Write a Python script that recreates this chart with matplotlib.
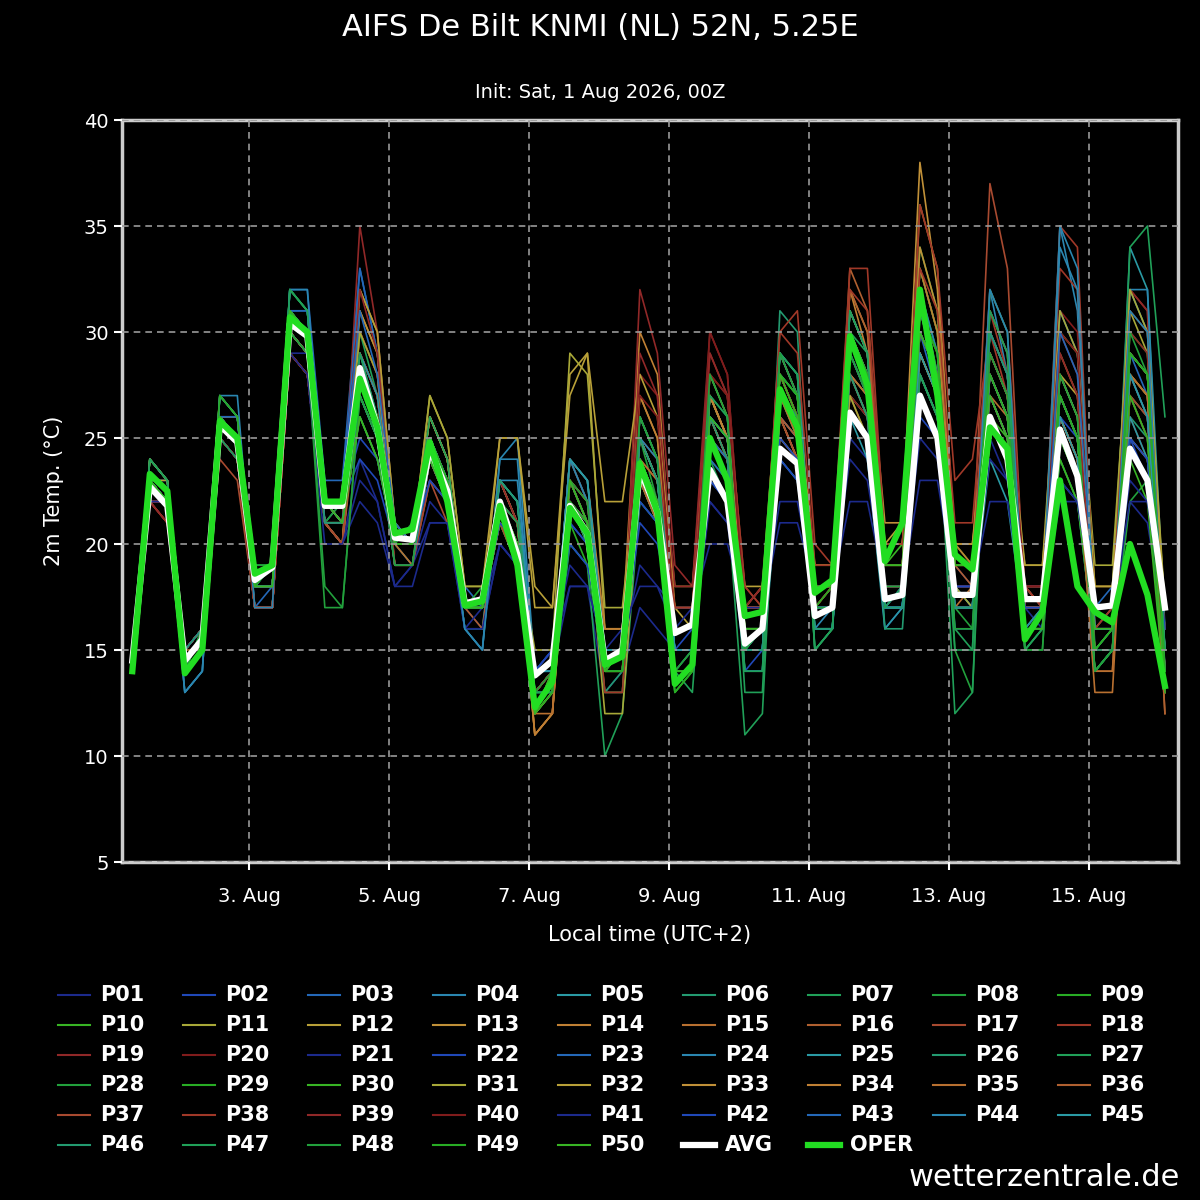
import matplotlib
matplotlib.use("Agg")
import matplotlib.pyplot as plt
from matplotlib.lines import Line2D

avg = [14.5,22.7,21.8,14.5,15.5,25.6,24.8,18.3,18.9,30.4,29.8,21.8,21.8,28.3,25.5,20.3,20.2,24.5,22.5,17.2,17.4,22.0,19.5,13.8,14.5,21.8,20.5,14.5,15.0,23.5,21.5,15.8,16.2,23.5,22.0,15.3,16.0,24.5,23.8,16.6,17.0,26.2,25.0,17.4,17.6,27.0,25.0,17.6,17.6,26.0,24.0,17.4,17.4,25.4,23.2,17.0,17.1,24.5,23.0,17.0]
oper = [14.0,23.3,22.5,13.9,15.0,25.8,25.0,18.6,19.0,30.7,30.0,22.0,22.0,27.8,25.5,20.5,20.7,24.8,22.0,17.1,17.3,21.8,19.0,12.3,13.5,21.7,20.5,14.3,14.7,23.8,21.5,13.4,14.3,25.0,23.0,16.6,16.8,27.3,25.5,17.7,18.3,29.8,27.5,19.2,21.0,32.0,27.0,19.5,18.8,25.5,24.5,15.5,16.8,23.0,18.0,16.8,16.3,20.0,17.6,13.3]

members_txt = """
14 22 22 15 16 25 24 18 18 29 29 21 20 24 22 18 19 22 21 17 16 20 19 14 14 18 18 13 14 17 16 15 15 22 21 15 15 24 23 17 17 25 24 17 18 28 26 19 18 25 23 17 16 24 22 16 16 22 21 16
14 23 23 15 16 26 26 18 19 31 30 22 21 27 25 20 20 25 23 17 17 21 19 13 14 20 19 14 15 22 21 15 16 23 22 14 15 26 25 17 17 27 26 16 17 30 28 18 17 27 25 18 17 26 24 16 16 25 24 17
14 22 22 14 15 26 25 17 18 32 32 23 23 33 29 21 20 25 23 18 17 23 21 14 15 23 21 15 15 25 23 16 16 25 23 16 16 27 25 18 18 29 27 18 18 30 27 18 18 29 27 17 17 28 26 17 18 29 27 16
14 23 22 13 14 27 27 17 17 32 31 21 22 29 26 19 19 24 22 16 15 24 25 14 14 23 21 15 15 24 22 15 15 26 24 15 15 28 26 16 17 31 29 17 17 32 28 18 18 32 28 17 17 35 31 16 17 32 30 15
14 23 22 14 15 26 25 18 18 31 30 22 21 26 24 20 19 24 22 16 16 23 22 13 14 24 22 14 15 23 21 15 15 25 24 14 14 24 23 16 16 26 24 16 17 28 26 18 17 24 22 16 17 23 22 15 16 34 32 16
14 24 23 15 16 26 25 18 19 30 29 21 21 29 27 20 20 25 23 17 17 23 21 12 13 22 21 13 14 26 24 15 15 26 25 14 14 31 30 15 16 30 28 16 16 28 26 17 17 30 28 17 17 26 24 14 15 26 25 16
14 24 23 14 15 25 24 18 18 32 31 22 22 28 26 20 20 25 23 17 17 22 20 12 13 20 19 10 12 22 21 14 13 24 22 11 12 28 27 15 16 29 27 17 18 28 26 16 15 31 29 16 16 25 23 14 15 34 35 26
14 23 22 14 16 26 25 19 19 30 29 21 22 28 25 20 21 25 22 17 18 22 21 13 14 22 21 15 15 25 22 13 14 28 26 16 16 27 26 18 18 30 28 19 19 34 31 15 13 30 28 15 16 28 26 14 15 22 23 13
14 23 22 14 15 27 26 18 19 32 31 22 22 27 25 20 20 25 23 17 17 21 19 12 13 21 19 14 14 23 21 13 14 24 23 16 16 27 26 17 18 30 28 20 20 33 30 19 19 26 24 16 16 24 22 15 16 30 29 13
14 23 22 14 15 26 25 18 18 31 30 22 21 27 25 20 20 24 22 17 17 21 19 12 14 22 20 14 15 23 22 14 14 25 23 16 16 27 25 18 18 29 27 19 20 32 28 20 19 26 25 16 17 24 22 16 16 24 22 13
14 24 23 15 16 27 26 18 18 30 29 21 21 29 27 20 20 26 24 17 17 22 20 13 14 23 21 12 12 23 21 15 15 28 26 16 16 28 26 18 18 31 29 19 19 30 28 18 17 30 28 18 18 30 29 19 19 31 29 17
14 23 23 15 16 26 26 18 18 30 29 21 20 31 29 20 20 27 25 18 18 25 25 18 17 28 29 16 16 26 24 17 16 27 25 17 17 26 24 18 18 27 26 20 20 29 27 19 19 27 25 18 18 26 24 17 17 25 24 16
14 23 22 15 16 26 25 18 18 30 29 22 21 32 30 21 20 26 24 17 17 23 21 11 12 22 20 15 15 25 23 17 17 27 25 17 18 29 27 19 19 32 30 21 21 38 32 19 19 27 25 18 17 26 24 17 17 28 26 14
14 23 22 15 16 25 24 17 17 30 29 22 21 30 28 20 20 26 24 17 17 22 20 11 12 24 23 16 16 30 28 17 17 27 25 17 18 28 26 18 18 32 29 19 19 36 33 20 19 29 27 18 18 29 27 16 16 29 28 14
14 23 22 15 15 25 24 17 17 29 28 21 20 28 26 20 19 24 22 17 17 21 20 11 12 22 21 14 14 25 23 16 16 26 24 17 17 26 25 18 18 28 26 18 18 27 25 17 18 28 26 17 17 26 24 13 13 28 27 12
14 22 22 15 16 25 24 17 17 30 29 21 20 27 25 19 19 24 22 17 16 22 20 13 14 22 20 14 14 23 21 16 16 25 23 17 17 25 24 18 18 33 31 20 20 31 28 19 18 26 24 18 17 26 24 14 14 28 27 14
14 22 21 15 16 24 23 17 17 29 28 21 20 30 28 19 19 23 21 17 17 21 19 13 14 22 21 15 15 24 22 16 16 27 25 17 17 26 24 17 18 27 25 17 18 33 30 19 19 37 33 17 17 27 25 15 15 27 26 14
14 22 21 14 15 25 24 18 18 30 29 22 22 29 27 20 20 24 22 17 17 22 20 13 14 23 21 13 13 24 23 17 17 29 27 18 17 30 31 20 19 33 33 20 20 36 33 23 24 30 27 18 17 35 34 16 17 32 31 13
14 22 21 15 16 25 24 17 17 29 28 21 21 35 30 20 20 25 23 17 17 23 21 13 14 22 21 14 14 32 29 19 18 30 28 17 18 27 26 17 18 30 28 19 19 28 26 17 17 32 30 18 18 30 28 15 15 32 31 13
14 22 22 15 16 25 24 17 17 29 28 21 21 30 28 19 19 24 22 17 17 22 20 13 14 23 21 14 14 28 27 16 16 30 28 17 17 28 26 18 18 27 26 18 18 30 28 17 17 28 26 18 18 31 30 18 18 26 24 16
14 22 22 15 16 25 24 18 18 30 29 21 20 22 21 18 19 21 21 16 17 20 19 14 15 19 18 15 15 19 18 17 17 22 21 17 17 22 22 18 18 24 23 18 18 25 24 18 18 24 23 18 18 23 22 17 17 23 22 17
14 23 22 15 16 26 25 18 19 30 29 22 22 24 23 20 20 23 22 17 17 22 20 14 15 20 19 15 15 21 20 16 16 23 22 15 16 24 23 17 17 26 25 17 18 26 25 18 18 28 26 17 17 27 25 16 16 25 23 16
14 23 22 14 15 26 26 18 18 31 31 22 22 33 29 21 20 25 23 17 17 22 20 14 14 21 20 15 15 24 22 15 15 24 23 14 14 26 25 16 16 28 27 17 17 29 27 17 17 30 28 16 16 31 29 17 17 27 25 15
14 23 22 13 14 27 26 17 17 31 30 21 21 27 25 19 19 24 22 16 15 24 24 13 14 24 23 15 15 26 24 14 15 27 25 15 16 28 26 16 16 29 27 17 17 31 28 16 16 28 26 16 16 35 33 15 16 32 32 14
14 23 22 14 15 26 25 18 18 31 30 22 21 28 26 20 20 25 23 17 17 23 22 14 14 24 23 15 15 25 23 15 15 26 25 15 15 27 26 17 17 28 26 17 17 30 28 18 18 29 27 16 16 27 25 16 16 26 24 15
14 24 23 15 16 26 25 18 19 30 29 21 21 28 26 20 20 25 23 17 17 23 22 13 13 23 21 14 14 25 23 15 15 26 24 15 15 29 28 16 16 30 28 17 17 28 26 17 17 31 29 16 16 27 25 15 15 27 26 15
14 24 23 14 15 25 24 18 18 32 31 22 22 30 27 20 20 26 24 17 17 22 21 13 13 22 20 13 13 24 22 14 14 27 26 13 13 29 28 15 16 30 29 17 18 29 27 12 13 32 30 15 16 27 25 14 15 29 28 15
14 23 22 14 16 26 25 19 19 30 29 17 17 27 25 19 19 25 23 17 17 22 20 13 14 23 22 14 14 26 24 14 15 27 25 15 16 28 27 17 17 29 27 18 18 33 30 17 16 30 28 15 15 28 26 14 15 28 27 14
14 23 22 14 15 27 26 18 19 31 30 22 22 28 26 20 20 25 23 17 17 22 20 12 13 22 21 14 14 23 22 13 14 25 23 16 16 28 27 17 18 30 28 19 19 32 29 19 19 28 26 16 16 27 25 15 16 29 28 13
14 23 22 14 15 26 25 18 18 31 30 22 21 26 24 20 20 24 22 17 17 22 20 12 14 23 21 14 15 24 22 14 14 25 24 16 16 27 26 18 18 30 27 19 19 30 28 19 19 27 25 16 16 25 23 16 16 27 25 13
14 24 23 15 16 26 25 18 18 30 29 21 21 30 28 20 20 27 25 18 18 22 20 15 15 29 28 17 17 25 23 16 16 26 24 16 16 25 24 17 17 27 25 18 18 29 27 19 19 29 27 19 19 31 29 18 18 32 30 17
14 24 23 15 16 26 25 18 18 30 29 21 20 32 30 21 20 26 24 17 17 25 25 17 17 27 29 22 22 28 26 18 18 27 25 18 18 26 24 19 19 28 27 20 21 29 27 20 20 27 25 19 19 28 27 18 18 29 28 17
14 23 22 15 16 26 25 18 18 30 29 21 21 31 29 20 20 26 24 17 17 23 21 12 13 23 22 15 15 27 25 16 16 27 25 17 17 29 27 18 18 31 29 20 20 34 31 20 20 29 27 17 17 28 26 16 16 29 28 15
14 23 22 15 16 25 24 17 17 30 29 22 21 29 27 20 20 25 23 17 17 22 20 11 12 23 22 16 16 27 25 16 16 27 25 17 17 28 26 18 18 30 28 19 19 33 30 19 19 28 26 17 17 27 25 16 16 28 27 14
14 23 22 15 16 25 24 17 17 29 28 21 20 28 26 19 19 24 22 17 17 21 20 12 12 23 21 14 14 24 23 16 16 25 24 17 17 27 25 18 18 28 27 18 18 29 27 17 17 27 26 17 17 26 24 14 14 28 27 13
14 22 22 15 16 25 24 17 17 30 29 21 20 28 26 19 19 24 22 17 17 22 21 13 14 22 21 14 14 25 23 16 16 26 24 17 17 26 25 18 18 32 30 19 19 30 28 18 18 28 26 17 17 26 24 15 15 29 28 12
14 22 22 15 16 25 24 17 17 29 28 21 20 29 27 19 19 23 22 17 17 21 20 13 14 22 21 15 15 24 22 16 16 26 24 17 17 26 24 17 18 28 26 18 18 31 29 19 19 31 29 17 17 27 25 15 15 27 26 14
14 22 21 14 15 25 24 18 18 30 29 22 22 29 27 20 20 24 22 17 17 22 21 13 14 24 22 13 13 25 24 17 17 28 27 18 17 30 29 19 19 32 31 20 20 33 31 21 21 31 28 18 17 33 32 16 17 31 30 14
14 22 21 15 16 25 24 17 17 29 28 21 21 32 29 20 20 25 23 17 17 23 21 13 14 23 22 14 14 29 27 18 18 29 27 17 18 28 26 17 18 30 28 19 19 30 28 18 18 30 28 18 18 29 27 15 15 30 29 13
14 22 22 15 16 25 24 17 17 29 28 21 21 29 27 19 19 24 22 17 17 22 20 13 14 23 21 14 14 27 26 16 16 28 27 17 17 28 26 18 18 29 27 18 18 31 29 18 18 29 27 18 18 30 29 17 17 27 25 16
14 22 22 15 16 25 24 18 18 29 28 20 20 23 22 18 18 21 21 16 16 20 19 14 15 18 18 15 16 18 18 16 17 20 20 17 17 21 21 18 18 22 22 18 18 23 23 18 18 22 22 17 17 22 22 17 17 22 22 17
14 23 22 15 16 26 25 18 19 31 30 22 22 25 24 20 20 23 22 17 17 21 20 14 15 21 20 15 15 22 21 16 16 23 22 16 16 25 24 17 17 26 25 17 18 27 25 18 18 27 25 17 17 26 25 16 16 25 24 16
14 23 22 14 15 26 25 18 18 31 31 22 22 31 28 21 20 25 23 17 17 22 20 14 14 22 21 15 15 24 22 15 15 25 24 15 15 27 26 17 17 29 27 17 17 30 28 17 17 30 28 16 16 30 28 17 17 28 26 15
14 23 22 13 14 27 26 17 17 32 32 21 21 27 25 19 19 24 22 16 15 23 23 14 14 24 22 15 15 25 24 15 15 26 25 15 16 29 27 16 16 30 28 17 17 32 29 17 17 32 30 16 17 34 32 16 16 31 30 14
14 23 22 14 15 26 25 18 18 31 30 22 21 29 27 20 20 25 23 17 17 23 22 14 14 24 23 15 15 25 23 15 15 26 25 15 15 29 28 17 17 31 29 17 17 29 27 17 17 28 26 16 16 26 24 16 16 28 26 15
14 24 23 15 16 26 25 18 19 30 29 21 21 27 25 20 20 25 23 17 17 23 22 13 13 23 21 14 14 25 23 14 14 26 24 15 15 28 27 16 16 28 26 17 17 28 26 17 17 30 28 16 16 27 25 15 15 29 28 15
14 24 23 14 15 25 24 18 18 32 31 22 22 29 26 20 20 26 24 17 17 22 21 13 13 22 20 14 14 24 22 14 14 27 26 14 14 29 28 15 16 31 29 17 18 28 26 15 15 31 29 15 16 27 25 14 15 29 28 15
14 23 22 14 16 26 25 19 19 30 29 18 17 27 25 19 19 25 23 17 17 22 20 13 14 23 22 14 14 26 24 14 15 28 26 15 16 29 27 17 17 29 27 18 18 31 29 16 16 29 27 15 15 28 26 14 15 30 28 14
14 23 22 14 15 27 26 18 19 31 30 22 22 28 26 20 20 25 23 17 17 22 20 12 13 22 21 14 14 23 22 14 14 25 23 16 16 28 27 17 18 30 28 19 19 31 29 19 19 28 26 16 16 27 25 15 16 29 28 14
14 23 22 14 15 26 25 18 18 31 30 22 21 26 24 20 20 24 22 17 17 22 20 12 14 23 21 14 15 24 22 14 14 26 25 16 16 28 26 18 18 30 27 19 19 30 28 19 19 27 25 16 16 25 23 16 16 27 25 13
"""
members = [[float(v) for v in line.split()] for line in members_txt.strip().splitlines()]
names = [f"P{i:02d}" for i in range(1, len(members) + 1)]
palette = ["#1c2a8c", "#2048b8", "#2468b8", "#2a86b0", "#2a9aa4", "#239a70", "#20a058", "#22a03c",
           "#28ac24", "#38b424", "#a8a838", "#b8a038", "#c09038", "#c08034", "#b87030",
           "#b06030", "#a84a30", "#a03828", "#902828", "#801c1c"]
xticks = [2, 4, 6, 8, 10, 12, 14]
xticklabels = ["3. Aug", "5. Aug", "7. Aug", "9. Aug", "11. Aug", "13. Aug", "15. Aug"]

x0 = 1 / 3
fig = plt.figure(figsize=(12, 12), dpi=100, facecolor="black")
ax = fig.add_axes([122/1200, 1 - 862/1200, (1178-122)/1200, (862-120)/1200], facecolor="black")

for i, m in enumerate(members):
    xs = [x0 + 0.25 * k for k in range(len(m))]
    ax.plot(xs, m, color=palette[i % 20], lw=1.2, zorder=2)
xs = [x0 + 0.25 * k for k in range(len(avg))]
ax.plot(xs, avg, color="white", lw=4.5, zorder=4)
xs = [x0 + 0.25 * k for k in range(len(oper))]
ax.plot(xs, oper, color="#22dd22", lw=4.5, zorder=5)

ax.set_xlim(0.186, 15.27)
ax.set_ylim(5, 40)
ax.set_yticks(range(5, 41, 5))
ax.set_xticks(xticks)
ax.set_xticklabels(xticklabels)
ax.grid(True, color="#999999", ls=(0, (4, 3)), lw=1.2)
ax.set_axisbelow(False)
for s in ax.spines.values():
    s.set_color("#cccccc"); s.set_linewidth(2.5)
ax.tick_params(colors="white", labelsize=14, length=6, width=1.5)
ax.tick_params(axis="x", pad=12)
ax.set_ylabel("2m Temp. (°C)", color="white", fontsize=15, labelpad=14)
ax.set_xlabel("Local time (UTC+2)", color="white", fontsize=15, labelpad=14)

fig.text(0.5, 1 - 28/1200, "AIFS De Bilt KNMI (NL) 52N, 5.25E", color="white", fontsize=22, ha="center", va="center")
fig.text(0.5, 1 - 92/1200, "Init: Sat, 1 Aug 2026, 00Z", color="white", fontsize=14, ha="center", va="center")

labels = names + ["AVG", "OPER"]
colors = [palette[i % 20] for i in range(len(names))] + ["white", "#22dd22"]
widths = [1.5] * len(names) + [4.5, 4.5]
for k, (lab, c, w) in enumerate(zip(labels, colors, widths)):
    r, cidx = divmod(k, 9)
    xl = 58 + cidx * 125
    y = 995 + r * 30
    fig.add_artist(Line2D([xl/1200, (xl+32)/1200], [1 - y/1200] * 2, color=c, lw=w))
    fig.text((xl + 42)/1200, 1 - y/1200, lab, color="white", fontsize=15, fontweight="bold", va="center")

fig.text(1 - 20/1200, 1 - 1178/1200, "wetterzentrale.de", color="white", fontsize=22, ha="right", va="center")
fig.savefig("out.png", facecolor="black")
